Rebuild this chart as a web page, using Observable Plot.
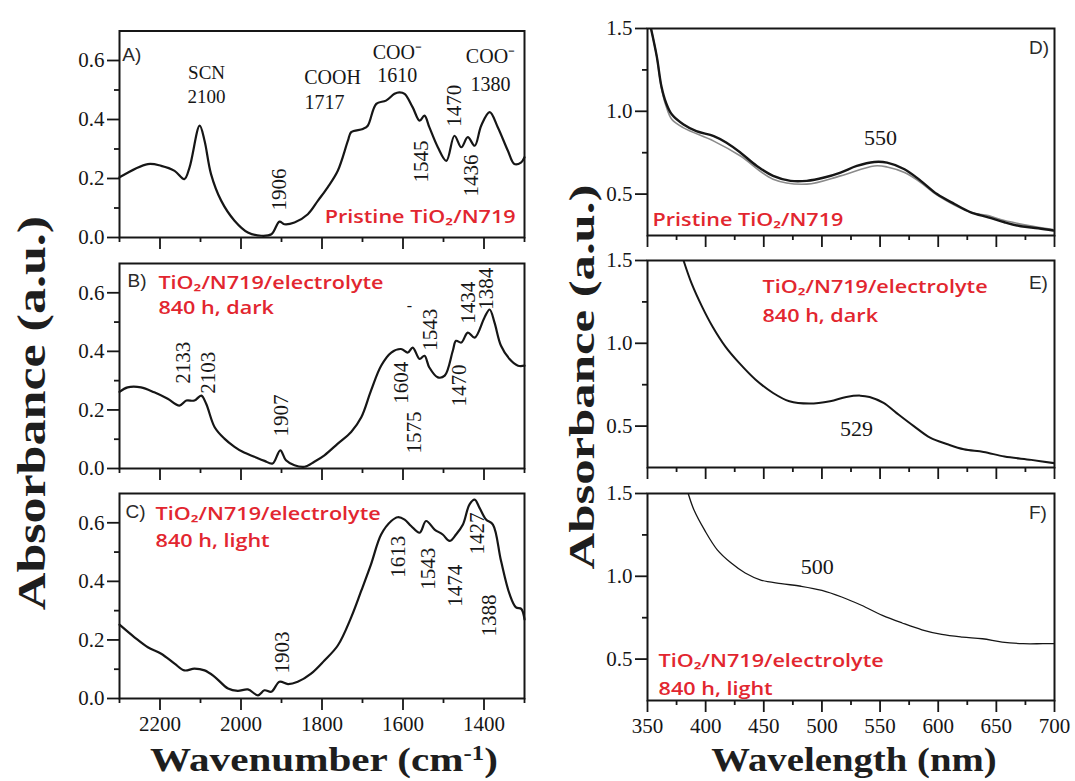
<!DOCTYPE html>
<html>
<head>
<meta charset="utf-8">
<script src="https://cdn.jsdelivr.net/npm/d3@7"></script>
<script src="https://cdn.jsdelivr.net/npm/@observablehq/plot@0.6"></script>
<style>
  body { margin: 0; background: #fff; }
  #wrap { position: relative; width: 1075px; height: 781px; overflow: hidden; background: #fff; }
  .title { position: absolute; font-family: "Liberation Serif", "Times New Roman", serif; font-weight: bold;
           color: #1e1e1e; white-space: nowrap; line-height: 1; transform-origin: center center; }
  .title sup { font-size: 0.6em; vertical-align: 0.55em; line-height: 0; }
</style>
</head>
<body>
<div id="wrap"></div>
<script>
// ---------------- IR spectra (left column) ----------------
const irA_wn  = [2300,2230,2197,2164,2140,2127,2102,2090,2074,2049,2016,1983,1950,1925,1905,1893,1868,1835,1810,1786,1761,1736,1728,1699,1687,1666,1642,1621,1609,1596,1576,1559,1547,1535,1514,1493,1473,1456,1440,1423,1407,1386,1366,1341,1325,1308,1300];
const irA_abs = [0.204,0.249,0.243,0.226,0.198,0.238,0.379,0.328,0.215,0.125,0.057,0.017,0.006,0.011,0.054,0.045,0.051,0.079,0.125,0.170,0.226,0.328,0.357,0.368,0.379,0.453,0.464,0.487,0.492,0.487,0.441,0.396,0.413,0.374,0.306,0.260,0.345,0.306,0.340,0.311,0.379,0.425,0.374,0.294,0.249,0.255,0.272];

const irB_wn  = [2300,2280,2247,2214,2181,2152,2135,2115,2098,2086,2065,2041,2016,1996,1967,1942,1922,1903,1889,1868,1843,1819,1794,1761,1728,1703,1679,1654,1629,1605,1588,1576,1559,1547,1535,1514,1497,1477,1469,1456,1440,1423,1399,1386,1374,1358,1337,1316,1300];
const irB_abs = [0.262,0.277,0.277,0.260,0.238,0.215,0.232,0.232,0.249,0.221,0.141,0.102,0.074,0.057,0.040,0.026,0.017,0.062,0.028,0.011,0.006,0.023,0.045,0.085,0.125,0.175,0.266,0.351,0.396,0.408,0.396,0.413,0.374,0.385,0.345,0.311,0.317,0.402,0.436,0.430,0.464,0.447,0.515,0.543,0.498,0.419,0.374,0.351,0.351];

const irC_wn  = [2300,2263,2230,2197,2164,2140,2115,2090,2065,2032,2008,1983,1958,1942,1925,1905,1884,1860,1827,1794,1761,1728,1703,1679,1654,1629,1613,1596,1580,1559,1543,1522,1502,1485,1469,1452,1436,1423,1411,1395,1378,1358,1337,1321,1308,1300];
const irC_abs = [0.252,0.209,0.175,0.153,0.119,0.096,0.102,0.096,0.074,0.034,0.026,0.031,0.011,0.028,0.023,0.057,0.049,0.057,0.085,0.130,0.181,0.277,0.368,0.458,0.560,0.606,0.619,0.611,0.589,0.566,0.606,0.577,0.560,0.538,0.560,0.594,0.662,0.679,0.651,0.611,0.594,0.470,0.357,0.311,0.306,0.270];

// ---------------- UV-vis spectra (right column) ----------------
const uvD_nm   = [353,358,362,366,371,381,392,407,418,430,444,458,473,487,502,516,530,545,556,571,585,599,614,628,643,657,671,686,699];
const uvD_abs  = [1.50,1.33,1.15,1.05,0.98,0.92,0.88,0.85,0.81,0.75,0.67,0.61,0.58,0.58,0.60,0.63,0.67,0.694,0.69,0.65,0.58,0.50,0.44,0.39,0.36,0.33,0.306,0.294,0.28];
const uvD2_nm  = [353,358,362,366,371,381,407,430,458,487,516,545,556,571,585,599,628,643,657,686,699];
const uvD2_abs = [1.50,1.33,1.14,1.03,0.95,0.90,0.82,0.73,0.59,0.56,0.61,0.67,0.664,0.63,0.57,0.494,0.39,0.37,0.34,0.30,0.286];
const uvE_nm   = [381,388,397,406,417,429,443,458,472,489,507,521,533,541,553,564,579,593,608,622,639,657,680,700];
const uvE_abs  = [1.50,1.36,1.22,1.10,0.98,0.88,0.78,0.70,0.65,0.636,0.65,0.676,0.684,0.676,0.64,0.58,0.50,0.43,0.39,0.36,0.344,0.316,0.296,0.276];
const uvF_nm   = [385,390,399,410,422,434,448,465,482,500,517,534,552,569,586,603,621,638,655,673,690,700];
const uvF_abs  = [1.50,1.40,1.28,1.16,1.08,1.02,0.976,0.956,0.94,0.915,0.875,0.825,0.764,0.718,0.677,0.649,0.633,0.623,0.603,0.593,0.593,0.593];

// ---------------- ticks ----------------
const irXMajor = [2200,2000,1800,1600,1400];
const irXMinor = [2300,2100,1900,1700,1500,1300];
const irYMajor = [0.0,0.2,0.4,0.6];
const irYMinor = [0.1,0.3,0.5];
const uvXMajor = [350,400,450,500,550,600,650,700];
const uvXMinor = [375,425,475,525,575,625,675];
const uvYMajor = [0.5,1.0,1.5];
const uvYMinor = [0.75,1.25];

// ---------------- annotations (in data coordinates) ----------------
const annA_small_text = ["SCN","2100"];
const annA_small_wn   = [2085,2085];
const annA_small_abs  = [0.559,0.478];
const annA_text = ["COOH","1717","COO\u207B","1610","COO\u207B","1380"];
const annA_wn   = [1774,1794,1614,1614,1384,1384];
const annA_abs  = [0.542,0.458,0.628,0.548,0.612,0.517];
const rotA_text = ["1906","1545","1470","1436"];
const rotA_wn   = [1905,1554,1473,1431];
const rotA_abs  = [0.163,0.258,0.447,0.210];
const rotB_text = ["2133","2103","1907","1604","1575","1543","1470","1434","1384"];
const rotB_wn   = [2142,2080,1900,1604,1572,1532,1461,1438,1394];
const rotB_abs  = [0.361,0.327,0.181,0.293,0.123,0.474,0.283,0.566,0.614];
const rotC_text = ["1903","1613","1543","1474","1427","1388"];
const rotC_wn   = [1898,1611,1537,1470,1416,1386];
const rotC_abs  = [0.157,0.484,0.443,0.385,0.563,0.283];

const peakD = {text: "550", nm: 550.4, abs: 0.842};
const peakE = {text: "529", nm: 529.7, abs: 0.485};
const peakF = {text: "500", nm: 496,   abs: 1.059};

const sampleLines = {
  pristine: ["Pristine TiO\u2082/N719"],
  dark:  ["TiO\u2082/N719/electrolyte", "840 h, dark"],
  light: ["TiO\u2082/N719/electrolyte", "840 h, light"]
};
const panelLetters = ["A)","B)","C)","D)","E)","F)"];

// ---------------- helpers ----------------
const RED = "#e2262f";
const INK = "#161616";
const serif = "'Liberation Serif', 'Times New Roman', serif";
const wrap = document.getElementById("wrap");
const zip = (a, b) => a.map((v, i) => ({x: v, y: b[i]}));
const zipT = (t, a, b) => t.map((s, i) => ({t: s, x: a[i], y: b[i]}));
const noLabel = () => "";

function place(svg, left, top) {
  svg.style.position = "absolute";
  svg.style.left = left + "px";
  svg.style.top = top + "px";
  svg.style.overflow = "visible";
  svg.style.background = "transparent";
  svg.style.maxWidth = "none";
  svg.querySelectorAll("[aria-label*='tick label'] text").forEach(t => {
    t.style.fontFamily = serif;
    t.style.fontSize = "21px";
  });
  // the reference's sample descriptions are horizontally wide: stretch them a little
  svg.querySelectorAll(`g[fill='${RED}'] text`).forEach(t => {
    t.setAttribute("transform", (t.getAttribute("transform") || "") + " scale(1.2,1)");
  });
  wrap.appendChild(svg);
}

const axText = {fontFamily: serif, fontSize: 21, fill: INK};
function commonAxes(xMaj, xMin, yMaj, yMin, showX, xFmt) {
  return [
    Plot.axisY(yMaj, {tickSize: 12, tickPadding: 3, tickFormat: d3.format(".1f"), strokeWidth: 1.8, stroke: INK, ...axText}),
    Plot.axisY(yMin, {tickSize: 5, tickFormat: noLabel, strokeWidth: 1.8, stroke: INK}),
    Plot.axisX(xMaj, {tickSize: 12, tickPadding: 6, tickFormat: showX ? xFmt : noLabel, strokeWidth: 1.8, stroke: INK, ...axText}),
    Plot.axisX(xMin, {tickSize: 5, tickFormat: noLabel, strokeWidth: 1.8, stroke: INK}),
    Plot.frame({stroke: INK, strokeWidth: 2})
  ];
}

// multi-line red sample description, one text element per block
function redText(lines, x, y, anchor, lineHeight = 1.4) {
  return Plot.text([{t: lines.join("\n"), x, y}], {
    x: "x", y: "y", text: "t", fill: RED, fontFamily: "'Open Sans', 'Noto Sans', sans-serif",
    fontWeight: 600, fontSize: 18, textAnchor: anchor, lineAnchor: "middle", lineHeight
  });
}
function letter(t, x, y) {
  return Plot.text([{t, x, y}], {x: "x", y: "y", text: "t", fill: "#2a2a2a",
    fontFamily: "'Liberation Sans', Arial, sans-serif", fontSize: 19, textAnchor: "start", lineAnchor: "middle"});
}
function labels(rows, opts = {}) {
  return Plot.text(rows, {x: "x", y: "y", text: "t", fill: INK, fontFamily: serif, fontSize: 21,
    textAnchor: "middle", lineAnchor: "middle", ...opts});
}

function irPlot(wn, ab, mTop, mBottom, height, showX, extra) {
  return Plot.plot({
    width: 535, height, marginLeft: 119, marginRight: 11, marginTop: mTop, marginBottom: mBottom,
    x: {domain: [2300, 1300], label: null},
    y: {domain: [0, 0.7], label: null},
    style: {fontFamily: serif, fontSize: "21px", color: INK, background: "transparent", overflow: "visible"},
    marks: [
      ...commonAxes(irXMajor, irXMinor, irYMajor, irYMinor, showX, d3.format("d")),
      Plot.line(zip(wn, ab), {x: "x", y: "y", stroke: INK, strokeWidth: 2.2, curve: "catmull-rom"}),
      ...extra
    ]
  });
}

function uvPlot(series, mTop, mBottom, height, showX, extra) {
  return Plot.plot({
    width: 515, height, marginLeft: 87, marginRight: 21, marginTop: mTop, marginBottom: mBottom,
    x: {domain: [350, 700], label: null},
    y: {domain: [0.25, 1.5], label: null},
    style: {fontFamily: serif, fontSize: "21px", color: INK, background: "transparent", overflow: "visible"},
    marks: [
      ...commonAxes(uvXMajor, uvXMinor, uvYMajor, uvYMinor, showX, d3.format("d")),
      ...series.map(s => Plot.line(zip(s.x, s.y), {x: "x", y: "y", stroke: s.stroke, strokeWidth: s.width, curve: "catmull-rom", clip: true})),
      ...extra
    ]
  });
}

// ---------------- left column ----------------
place(irPlot(irA_wn, irA_abs, 20.5, 20, 247, false, [
  labels(zipT(annA_small_text, annA_small_wn, annA_small_abs), {fontSize: 19}),
  labels(zipT(annA_text, annA_wn, annA_abs), {fontSize: 20}),
  labels(zipT(rotA_text, rotA_wn, rotA_abs), {rotate: -90}),
  redText(sampleLines.pristine, 1322, 0.075, "end"),
  letter(panelLetters[0], 2293, 0.620)
]), 0, 10);

place(irPlot(irB_wn, irB_abs, 20, 20, 245, false, [
  labels(zipT(rotB_text, rotB_wn, rotB_abs), {rotate: -90}),
  labels([{t: "-", x: 1584, y: 0.556}], {fontSize: 16}),
  redText(sampleLines.dark, 2204, 0.5985, "start", 1.39),
  letter(panelLetters[1], 2280, 0.641)
]), 0, 243);

place(irPlot(irC_wn, irC_abs, 20, 45, 270, true, [
  labels(zipT(rotC_text, rotC_wn, rotC_abs), {rotate: -90}),
  redText(sampleLines.light, 2211, 0.592, "start", 1.5),
  letter(panelLetters[2], 2285, 0.638)
]), 0, 473);

// ---------------- right column ----------------
place(uvPlot([
  {x: uvD2_nm, y: uvD2_abs, stroke: "#8a8a8a", width: 1.6},
  {x: uvD_nm, y: uvD_abs, stroke: INK, width: 2.4}
], 20, 20, 247, false, [
  labels([{t: peakD.text, x: peakD.nm, y: peakD.abs}], {fontSize: 22}),
  redText(sampleLines.pristine, 354.3, 0.358, "start"),
  letter(panelLetters[3], 678, 1.385)
]), 560, 8);

place(uvPlot([
  {x: uvE_nm, y: uvE_abs, stroke: INK, width: 2}
], 20, 20, 247, false, [
  labels([{t: peakE.text, x: peakE.nm, y: peakE.abs}], {fontSize: 22}),
  redText(sampleLines.dark, 448.9, 1.2735, "start", 1.61),
  letter(panelLetters[4], 678, 1.367)
]), 560, 240);

place(uvPlot([
  {x: uvF_nm, y: uvF_abs, stroke: INK, width: 1.3}
], 20, 45, 272, true, [
  labels([{t: peakF.text, x: peakF.nm, y: peakF.abs}], {fontSize: 22}),
  redText(sampleLines.light, 359.5, 0.4245, "start", 1.56),
  letter(panelLetters[5], 678, 1.385)
]), 560, 473);

// ---------------- axis titles ----------------
function title(html, cx, cy, size, scale, rotate) {
  const d = document.createElement("div");
  d.className = "title";
  d.innerHTML = html;
  d.style.fontSize = size + "px";
  d.style.left = cx + "px";
  d.style.top = cy + "px";
  d.style.transform = `translate(-50%, -50%)${rotate ? " rotate(-90deg)" : ""} scaleX(${scale})`;
  wrap.appendChild(d);
}
title("Absorbance (a.u.)", 32, 413, 40, 1.30, true);
title("Absorbance (a.u.)", 582, 377, 35, 1.45, true);
title("Wavenumber (cm<sup>-1</sup>)", 324, 760, 34, 1.21, false);
title("Wavelength (nm)", 854, 760, 34, 1.14, false);
</script>
</body>
</html>
